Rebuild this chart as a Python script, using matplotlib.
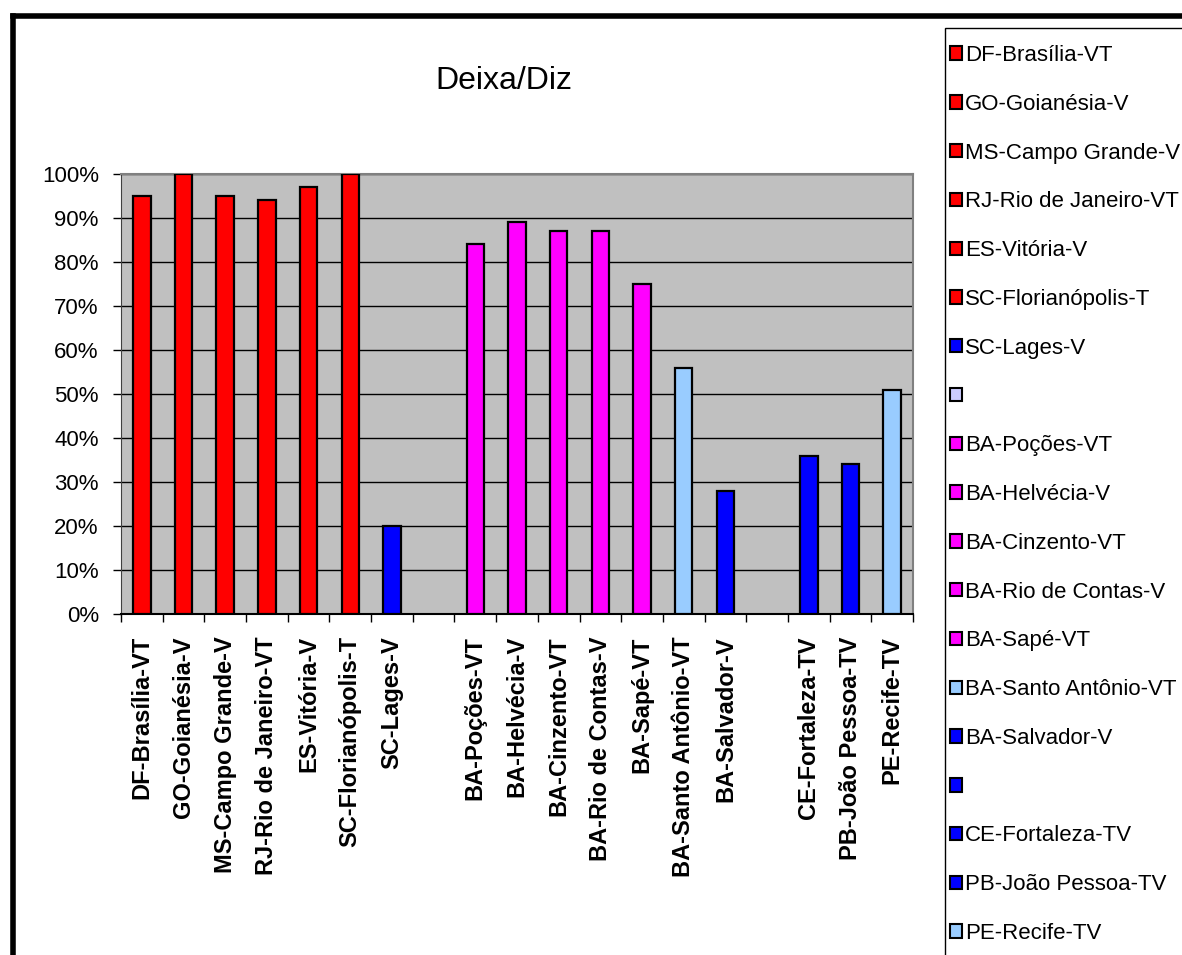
import matplotlib
matplotlib.use("Agg")
import matplotlib.pyplot as plt
from matplotlib.patches import Rectangle
from matplotlib.lines import Line2D
from matplotlib.ticker import FixedLocator, PercentFormatter
import numpy as np

plt.rcParams['font.family'] = ['Liberation Sans', 'DejaVu Sans']

# ---- data ----
categories = [
    "DF-Brasília-VT", "GO-Goianésia-V", "MS-Campo Grande-V", "RJ-Rio de Janeiro-VT",
    "ES-Vitória-V", "SC-Florianópolis-T", "SC-Lages-V", "",
    "BA-Poções-VT", "BA-Helvécia-V", "BA-Cinzento-VT", "BA-Rio de Contas-V",
    "BA-Sapé-VT", "BA-Santo Antônio-VT", "BA-Salvador-V", "",
    "CE-Fortaleza-TV", "PB-João Pessoa-TV", "PE-Recife-TV",
]
values = [95, 100, 95, 94, 97, 100, 20, np.nan,
          84, 89, 87, 87, 75, 56, 28, np.nan,
          36, 34, 51]
colors = ["#FF0000"] * 6 + ["#0000FF", "#CCCCFF"] + ["#FF00FF"] * 5 + \
         ["#99CCFF", "#0000FF", "#0000FF", "#0000FF", "#0000FF", "#99CCFF"]
title = "Deixa/Diz"

W, H = 1182, 955
fig = plt.figure(figsize=(W / 100, H / 100), dpi=100)
fig.patch.set_facecolor("white")

# plot area
x0, x1, ytop, ybot = 121, 913, 174, 614
ax = fig.add_axes([x0 / W, 1 - ybot / H, (x1 - x0) / W, (ybot - ytop) / H])
ax.set_facecolor("#C0C0C0")

x = np.arange(len(categories))
bars = ax.bar(x, values, width=0.42, color=colors, edgecolor="black",
              linewidth=1.6, zorder=3)

ax.set_xlim(-0.5, len(categories) - 0.5)
ax.set_ylim(0, 100)
ax.yaxis.set_major_locator(FixedLocator(np.arange(0, 101, 10)))
ax.yaxis.set_major_formatter(PercentFormatter(decimals=0))
ax.grid(axis="y", color="black", linewidth=1.0, zorder=1)
ax.set_axisbelow(True)

# x ticks: labels at centers, marks at boundaries
ax.set_xticks(x)
ax.set_xticklabels(categories, rotation=90, fontsize=17, fontweight="bold",
                   va="top", ha="center")
ax.tick_params(axis="x", which="major", length=0, pad=16)
ax.set_xticks(np.arange(-0.5, len(categories), 1.0), minor=True)
ax.tick_params(axis="x", which="minor", length=6, width=1.0, color="black",
               direction="out")
ax.tick_params(axis="y", length=6, width=1.0, direction="out", pad=10,
               labelsize=16)

for side in ("top", "right"):
    ax.spines[side].set_color("#808080")
    ax.spines[side].set_linewidth(1.5)
ax.spines["left"].set_color("#404040")
ax.spines["bottom"].set_color("black")
ax.spines["bottom"].set_linewidth(1.5)

# title
fig.text(504 / W, 1 - 81 / H, title, ha="center", va="center", fontsize=23)

# legend
handles = list(bars.patches)
leg = fig.legend(handles, categories, loc="upper left",
                 bbox_to_anchor=(950 / W, 1 - 45 / H),
                 bbox_transform=fig.transFigure, frameon=False,
                 fontsize=16, handlelength=0.55, handleheight=0.55,
                 handletextpad=0.12, labelspacing=1.25, borderpad=0,
                 borderaxespad=0)
for h in leg.legend_handles:
    h.set_linewidth(1.5)

# legend box (cropped by the image edges)
fig.add_artist(Rectangle((945 / W, -0.1), 1.0, (1 - 28 / H) + 0.1,
                         transform=fig.transFigure, fill=False,
                         edgecolor="black", linewidth=1.0))

# outer chart border (cropped on right and bottom)
fig.add_artist(Line2D([13 / W, 13 / W], [-0.1, 1 - 16 / H],
                      transform=fig.transFigure, color="black", linewidth=4,
                      solid_capstyle="projecting"))
fig.add_artist(Line2D([13 / W, 1.1], [1 - 16 / H, 1 - 16 / H],
                      transform=fig.transFigure, color="black", linewidth=4,
                      solid_capstyle="projecting"))

fig.savefig("out.png", dpi=100)
